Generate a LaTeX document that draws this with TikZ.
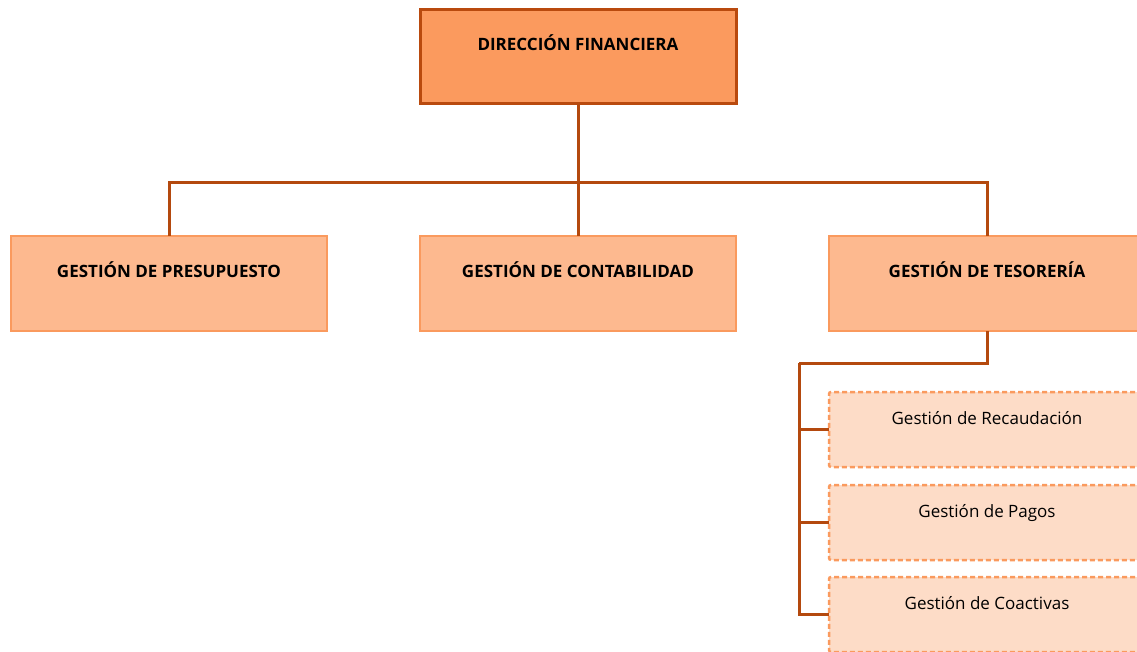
\documentclass[tikz,border=0pt]{standalone}
\usepackage{fontspec}
\setmainfont{Open Sans}
\definecolor{topfill}{HTML}{FB9A5E}
\definecolor{topline}{HTML}{B94A0E}
\definecolor{midfill}{HTML}{FDB98F}
\definecolor{midline}{HTML}{FA9A5E}
\definecolor{subfill}{HTML}{FDDCC7}
\definecolor{wire}{HTML}{B4490E}
\begin{document}
\begin{tikzpicture}[x=1pt,y=-1pt,
  boxbase/.style={rectangle,anchor=north west,inner sep=0pt,outer sep=0pt,
    minimum width=316pt,text height=12pt,text depth=24pt},
  headbox/.style={boxbase,fill=topfill,draw=topline,line width=3pt,
    minimum height=94pt,font=\bfseries\fontsize{17}{20}\selectfont},
  areabox/.style={boxbase,fill=midfill,draw=midline,line width=2.5pt,
    minimum height=95pt,font=\bfseries\fontsize{17}{20}\selectfont},
  unitbox/.style={boxbase,fill=subfill,draw=midline,line width=2.5pt,
    dash pattern=on 5pt off 3pt,rounded corners=2pt,
    minimum height=75pt,text height=12pt,text depth=23pt,
    font=\fontsize{17}{20}\selectfont},
  wirestyle/.style={draw=wire,line width=3pt}]
\useasboundingbox (0,0) rectangle (1137,652);
\clip (0,0) rectangle (1137,652);
% hierarchy boxes
\node[headbox] (dir) at (420,10) {DIRECCIÓN FINANCIERA};
\node[areabox] (pres) at (11,236) {GESTIÓN DE PRESUPUESTO};
\node[areabox] (cont) at (420,236) {GESTIÓN DE CONTABILIDAD};
\node[areabox] (tes) at (829,236) {GESTIÓN DE TESORERÍA};
\node[unitbox] (rec) at (829,392) {Gestión de Recaudación};
\node[unitbox] (pag) at (829,485) {Gestión de Pagos};
\node[unitbox] (coa) at (829,577) {Gestión de Coactivas};
% connectors from the direction to the three areas
\coordinate (bus) at (578,183);
\draw[wirestyle] (dir.south) -- (bus);
\draw[wirestyle] (bus) -| (pres.north);
\draw[wirestyle] (bus) -- (cont.north);
\draw[wirestyle] (bus) -| (tes.north);
% treasury units hang from a vertical spine
\coordinate (spine) at (799,363);
\draw[wirestyle] (tes.south) |- (spine);
\draw[wirestyle] (spine) |- (coa.west);
\draw[wirestyle] (spine |- rec.west) -- (rec.west);
\draw[wirestyle] (spine |- pag.west) -- (pag.west);
\end{tikzpicture}
\end{document}
